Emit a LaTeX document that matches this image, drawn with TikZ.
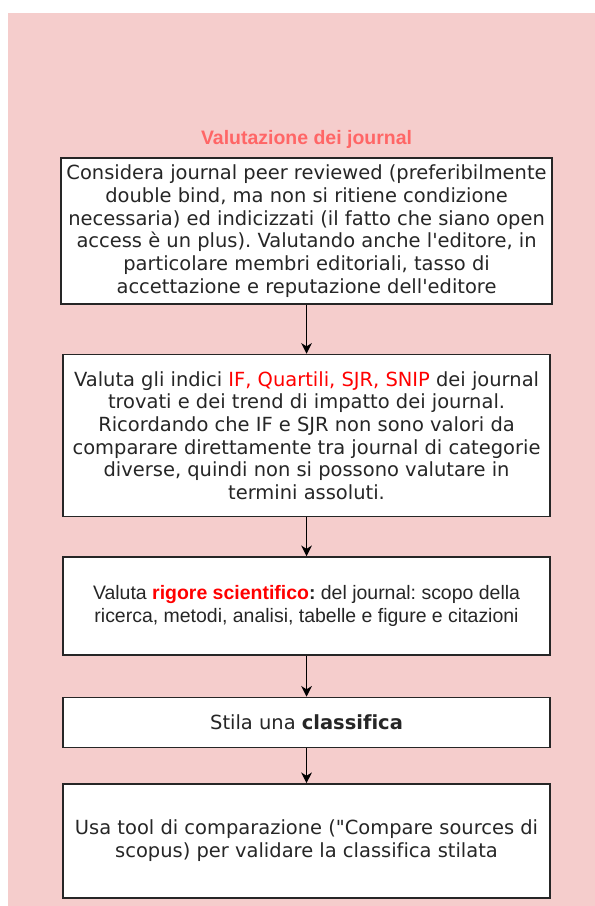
\documentclass[tikz,border=0pt]{standalone}
\usepackage{fontspec}
\setmainfont{DejaVu Sans}[Ligatures=NoCommon]
\newfontfamily\helvfont{Liberation Sans}[Ligatures=NoCommon]
\usepackage{xcolor}
\usetikzlibrary{arrows.meta,positioning}
\definecolor{sfondo}{HTML}{F5CDCC}
\definecolor{titolo}{HTML}{FF6666}
\definecolor{evid}{HTML}{FF0000}
\frenchspacing

\begin{document}
\begin{tikzpicture}[
    box/.style={draw=black!85, line width=1.1pt, fill=white, text=black!85, align=center, font=\fontsize{14.6}{17}\selectfont, minimum width=365pt, inner sep=4pt},
    arrow/.style={-{Stealth[length=8pt, width=8pt, inset=2.5pt]}, line width=1pt}
  ]
    \useasboundingbox (0,0) rectangle (446.25pt,-679.5pt);
    % Sfondo
    \fill[sfondo] (6pt,-9.75pt) rectangle (446.25pt,-679.5pt);

    % Criteri di selezione
    \node[box, minimum height=109.5pt] (cons) at (229.9pt,-173.25pt) {Considera journal peer reviewed (preferibilmente\\
      double bind, ma non si ritiene condizione\\
      necessaria) ed indicizzati (il fatto che siano open\\
      access è un plus). Valutando anche l\textquotesingle editore, in\\
      particolare membri editoriali, tasso di\\
      accettazione e reputazione dell\textquotesingle editore};

    % Titolo
    \node[above=3pt of cons, font=\helvfont\bfseries\fontsize{14.6}{16}\selectfont, text=titolo] (tit) {Valutazione dei journal};

    % Indici
    \node[box, below=36.75pt of cons, minimum height=121.5pt] (ind) {Valuta gli indici \textcolor{evid}{IF, Quartili, SJR, SNIP} dei journal\\
      trovati e dei trend di impatto dei journal.\\
      Ricordando che IF e SJR non sono valori da\\
      comparare direttamente tra journal di categorie\\
      diverse, quindi non si possono valutare in\\
      termini assoluti.};

    % Rigore
    \node[box, below=29.25pt of ind, minimum height=73.5pt, font=\helvfont\fontsize{14.6}{17}\selectfont] (rig) {Valuta \textcolor{evid}{\bfseries rigore scientifico}\textbf{:} del journal: scopo della\\
      ricerca, metodi, analisi, tabelle e figure e citazioni};

    % Classifica
    \node[box, below=30.75pt of rig, minimum height=37.5pt] (cla) {Stila una \textbf{classifica}};

    % Confronto
    \node[box, below=26.25pt of cla, minimum height=85.5pt] (conf) {Usa tool di comparazione (\textquotedbl Compare sources di\\
      scopus) per validare la classifica stilata};

    % Frecce
    \draw[arrow] (cons.south) -- (ind.north);
    \draw[arrow] (ind.south) -- (rig.north);
    \draw[arrow] (rig.south) -- (cla.north);
    \draw[arrow] (cla.south) -- (conf.north);
  \end{tikzpicture}
\end{document}
